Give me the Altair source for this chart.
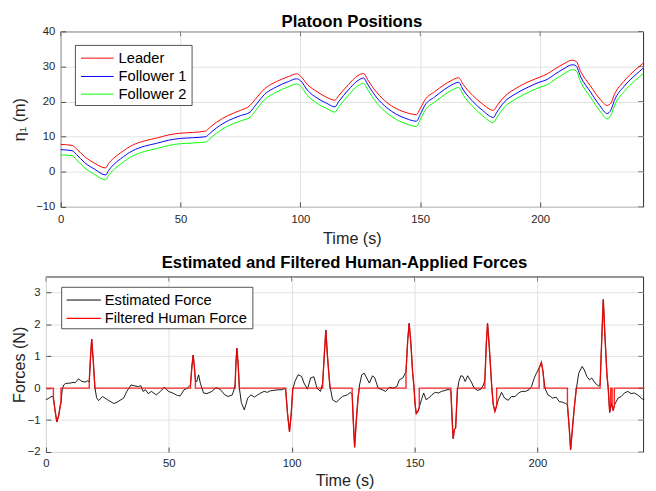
import altair as alt
import pandas as pd

FONT = "Liberation Sans"
AX = "#262626"

# ---------------- top panel data ----------------
series_top = ["Leader", "Follower 1", "Follower 2"]
colors_top = ["#ff0000", "#0000ff", "#00ff00"]

pos_t = [0, 4.8, 6.5, 10, 14, 18.8, 20, 22, 25, 30,
         35, 40, 45, 50, 55, 60.5, 62, 65, 70, 75,
         79, 81, 85, 90, 95, 98.4, 100, 103, 107, 111,
         114.4, 116, 120, 124, 126.4, 128, 132, 136, 140, 144,
         148.4, 150, 152, 156, 160, 163, 166, 168, 172, 176,
         180.6, 182, 185, 190, 195, 200, 203, 206, 210, 213.5,
         215, 217, 221, 225, 228, 229.5, 231, 235, 240, 243.2]

leader = [7.8, 7.5, 6.6, 4.3, 2.5, 1.1, 2.4, 3.8, 5.4, 7.6,
          8.8, 9.6, 10.5, 11.0, 11.2, 11.6, 12.5, 14.1, 16.1, 17.5,
          18.9, 20.5, 23.6, 25.7, 27.1, 27.9, 27.3, 24.8, 22.8, 21.2,
          20.4, 21.7, 24.8, 27.4, 28.0, 26.3, 22.5, 19.8, 18.0, 16.9,
          16.3, 18.0, 20.5, 22.8, 24.8, 26.0, 26.8, 24.8, 21.7, 19.3,
          17.5, 18.8, 21.3, 23.8, 25.6, 27.0, 27.9, 29.2, 30.8, 31.8,
          31.5, 28.5, 24.5, 20.7, 18.9, 19.5, 22.0, 25.8, 29.2, 31.0]

follower1 = [6.3, 6.0, 5.0, 2.6, 0.8, -0.9, 0.4, 2.0, 3.7, 6.0,
             7.3, 8.1, 9.0, 9.5, 9.7, 10.0, 10.8, 12.5, 14.6, 16.0,
             17.0, 18.7, 22.0, 24.2, 25.7, 26.5, 26.0, 23.2, 21.0, 19.5,
             18.5, 20.0, 23.3, 26.0, 26.7, 25.0, 21.0, 18.3, 16.4, 15.2,
             14.4, 16.3, 19.0, 21.3, 23.4, 24.7, 25.5, 23.3, 20.0, 17.5,
             15.5, 17.0, 19.8, 22.3, 24.1, 25.6, 26.3, 27.7, 29.4, 30.5,
             30.2, 27.0, 22.8, 18.8, 16.6, 17.5, 20.3, 24.3, 27.7, 29.6]

follower2 = [4.8, 4.6, 3.5, 1.1, -0.7, -2.3, -1.0, 0.5, 2.2, 4.5,
             5.8, 6.6, 7.5, 8.0, 8.2, 8.5, 9.3, 11.0, 13.1, 14.5,
             15.5, 17.2, 20.5, 22.7, 24.2, 25.0, 24.5, 21.7, 19.5, 18.0,
             17.0, 18.5, 21.8, 24.5, 25.2, 23.5, 19.5, 16.8, 14.9, 13.7,
             12.9, 14.8, 17.5, 19.8, 21.9, 23.2, 24.0, 21.8, 18.5, 16.0,
             14.0, 15.5, 18.3, 20.8, 22.6, 24.1, 24.8, 26.2, 27.9, 29.1,
             28.8, 25.5, 21.3, 17.3, 15.1, 16.0, 18.8, 22.8, 26.2, 28.1]

# ---------------- bottom panel data ----------------
series_bot = ["Estimated Force", "Filtered Human Force"]
colors_bot = ["#000000", "#ff0000"]

est_t = [0.0, 1.5, 2.5, 3.0, 3.6, 4.4, 5.2, 5.8, 6.1, 6.6,
         7.2, 8.0, 9.9, 11.0, 11.9, 13.2, 14.5, 15.9, 16.8, 17.6,
         18.1, 18.6, 19.2, 19.9, 20.6, 21.4, 23.0, 25.0, 27.6, 28.9,
         31.6, 32.9, 34.6, 36.2, 37.6, 38.6, 39.5, 40.5, 41.6, 42.9,
         44.9, 46.6, 48.2, 49.8, 51.5, 53.5, 54.6, 56.2, 57.5, 58.2,
         58.8, 59.4, 59.9, 60.4, 60.8, 61.3, 62.1, 62.8, 64.1, 65.5,
         67.5, 69.2, 70.8, 72.8, 74.1, 75.8, 76.7, 77.0, 77.3, 77.7,
         78.2, 78.7, 79.5, 80.7, 81.4, 82.1, 83.4, 84.8, 86.1, 87.4,
         88.8, 90.1, 91.4, 92.7, 94.4, 96.0, 97.1, 97.6, 98.3, 99.1,
         99.8, 100.4, 101.3, 102.6, 104.0, 105.0, 106.4, 107.7, 109.0, 110.3,
         111.7, 112.6, 113.3, 113.9, 114.5, 115.2, 115.5, 116.6, 118.2, 119.2,
         120.6, 122.6, 123.9, 124.6, 125.1, 125.6, 126.3, 127.0, 127.6, 128.5,
         129.5, 130.5, 131.6, 132.9, 133.8, 135.2, 136.9, 138.2, 139.8, 141.2,
         142.8, 143.8, 145.2, 146.2, 146.5, 147.2, 147.8, 148.5, 149.2, 149.8,
         150.2, 150.7, 151.4, 151.9, 152.8, 153.7, 154.7, 155.7, 157.0, 158.4,
         159.7, 161.0, 162.4, 164.0, 164.8, 165.3, 165.7, 166.2, 166.7, 167.1,
         167.4, 168.0, 168.8, 169.7, 170.6, 171.6, 173.0, 174.3, 175.7, 177.0,
         178.0, 178.6, 179.2, 179.7, 180.4, 181.4, 182.0, 182.7, 183.4, 184.1,
         185.4, 186.6, 188.1, 189.4, 191.0, 192.3, 193.6, 195.2, 196.5, 197.6,
         198.7, 199.6, 200.7, 201.6, 202.2, 202.7, 203.2, 204.3, 205.3, 206.2,
         207.6, 208.9, 210.2, 211.5, 212.2, 212.9, 213.5, 214.2, 215.0, 215.7,
         216.2, 216.8, 218.2, 219.1, 220.1, 221.2, 222.1, 223.5, 224.8, 225.5,
         226.2, 226.8, 227.5, 228.3, 228.8, 229.4, 230.1, 230.8, 231.4, 232.8,
         234.1, 235.4, 236.8, 238.1, 239.4, 240.8, 242.7, 243.5]

est_f = [-0.36, -0.30, -0.25, -0.30, -0.65, -1.06, -0.85, -0.55, -0.45, -0.05,
         0.10, 0.15, 0.16, 0.18, 0.17, 0.29, 0.22, 0.19, 0.23, 0.20,
         0.95, 1.54, 0.90, 0.02, -0.30, -0.39, -0.26, -0.36, -0.48, -0.44,
         -0.31, -0.10, 0.10, 0.07, 0.05, 0.08, -0.10, -0.05, -0.17, -0.10,
         -0.21, -0.10, 0.03, -0.10, -0.15, -0.23, -0.24, -0.05, 0.00, 0.05,
         0.10, 0.70, 1.04, 0.65, 0.25, 0.20, 0.42, 0.16, -0.15, -0.17,
         -0.10, 0.02, -0.03, -0.21, -0.26, -0.21, 0.00, 0.15, 0.80, 1.25,
         0.75, 0.00, -0.45, -0.68, -0.50, -0.31, -0.21, -0.28, -0.21, -0.15,
         -0.10, -0.13, -0.08, -0.07, -0.05, -0.05, 0.00, -0.10, -0.80, -1.37,
         -0.80, -0.05, 0.21, 0.42, 0.37, 0.16, -0.03, 0.32, 0.36, 0.00,
         -0.10, 0.16, 1.10, 1.82, 1.05, 0.37, 0.10, -0.36, -0.44, -0.36,
         -0.26, -0.21, -0.13, -0.20, -1.10, -1.85, -1.00, -0.30, 0.10, 0.42,
         0.47, 0.32, 0.16, 0.39, 0.32, 0.00, -0.05, -0.10, 0.03, 0.00,
         0.05, 0.26, 0.32, 0.47, 0.50, 1.50, 2.03, 1.40, 0.50, 0.00,
         -0.50, -0.80, -0.72, -0.60, -0.36, -0.15, -0.36, -0.31, -0.21, -0.13,
         -0.15, -0.10, -0.07, -0.03, -0.10, -1.00, -1.58, -1.30, -1.25, -0.60,
         -0.10, 0.20, 0.39, 0.37, 0.21, 0.39, 0.21, 0.00, -0.07, -0.03,
         0.10, 0.25, 1.40, 2.03, 1.30, 0.05, -0.50, -0.73, -0.55, -0.36,
         -0.13, -0.31, -0.38, -0.26, -0.26, -0.15, -0.10, -0.10, -0.05, 0.05,
         0.32, 0.47, 0.63, 0.81, 0.55, 0.20, -0.03, -0.21, -0.26, -0.31,
         -0.28, -0.42, -0.44, -0.48, -0.52, -1.20, -1.93, -1.30, -0.60, -0.10,
         0.16, 0.47, 0.68, 0.57, 0.37, 0.26, 0.32, 0.16, 0.07, 0.10,
         1.60, 2.78, 1.60, 0.40, 0.00, -0.76, -0.47, -0.70, -0.52, -0.31,
         -0.26, -0.15, -0.10, -0.17, -0.15, -0.21, -0.34, -0.36]

filt_t = [0.0, 3.0, 3.0, 3.6, 4.4, 5.2, 5.8, 6.1, 6.1, 17.6,
          17.6, 18.1, 18.6, 19.2, 19.9, 19.9, 58.8, 58.8, 59.4, 59.9,
          60.4, 60.8, 60.8, 77.0, 77.0, 77.3, 77.7, 78.2, 78.7, 97.6,
          97.6, 98.3, 99.1, 99.8, 100.4, 100.4, 112.6, 112.6, 113.3, 113.9,
          114.5, 115.2, 115.5, 115.5, 124.6, 124.6, 125.1, 125.6, 126.3, 127.0,
          127.5, 146.5, 146.5, 147.2, 147.8, 148.5, 149.2, 149.8, 150.2, 150.7,
          151.4, 151.9, 151.9, 164.8, 164.8, 165.3, 165.7, 166.2, 166.7, 167.1,
          167.4, 167.4, 178.6, 178.6, 179.2, 179.7, 180.4, 181.4, 182.0, 182.7,
          183.4, 183.4, 200.7, 200.7, 201.6, 202.2, 202.7, 202.7, 212.2, 212.2,
          212.9, 213.5, 214.2, 215.0, 215.7, 215.7, 225.5, 225.5, 226.2, 226.8,
          227.5, 228.3, 228.8, 229.4, 229.8, 229.8, 230.4, 230.4, 230.8, 231.3,
          231.3, 243.5]

filt_f = [0, 0, -0.30, -0.65, -1.06, -0.85, -0.55, -0.45, 0, 0,
          0.20, 0.95, 1.54, 0.90, 0.02, 0, 0, 0.10, 0.70, 1.04,
          0.65, 0.25, 0, 0, 0.15, 0.80, 1.25, 0.75, 0.00, 0,
          -0.10, -0.80, -1.37, -0.80, -0.05, 0, 0, 0.16, 1.10, 1.82,
          1.05, 0.37, 0.10, 0, 0, -0.20, -1.10, -1.85, -1.00, -0.30,
          0, 0, 0.50, 1.50, 2.03, 1.40, 0.50, 0.00, -0.50, -0.80,
          -0.72, -0.60, 0, 0, -0.10, -1.00, -1.58, -1.30, -1.25, -0.60,
          -0.10, 0, 0, 0.25, 1.40, 2.03, 1.30, 0.05, -0.50, -0.73,
          -0.55, 0, 0, 0.63, 0.81, 0.55, 0.20, 0, 0, -0.52,
          -1.20, -1.93, -1.30, -0.60, -0.10, 0, 0, 0.10, 1.60, 2.78,
          1.60, 0.40, 0.00, -0.76, -0.55, 0, 0, -0.55, -0.70, -0.55,
          0, 0]

x_ticks = [0, 50, 100, 150, 200]
top_y_ticks = [-10, 0, 10, 20, 30, 40]
bot_y_ticks = [-2, -1, 0, 1, 2, 3]
x_domain = [0, 243]

# ---------------- tables ----------------
rows = []
for name, vals in zip(series_top, [leader, follower1, follower2]):
    for i, (t, v) in enumerate(zip(pos_t, vals)):
        rows.append({"series": name, "t": t, "v": v, "i": i})
df_top = pd.DataFrame(rows)
df_est = pd.DataFrame({"t": est_t, "v": est_f, "i": range(len(est_t))})
df_filt = pd.DataFrame({"t": filt_t, "v": filt_f, "i": range(len(filt_t))})


def main_axes(y_ticks, y_title, y_title_x, x_label_pad, x_title_pad):
    bottom = alt.Axis(orient="bottom", values=x_ticks, title="Time (s)", offset=-5, tickSize=5,
                      grid=True, labelPadding=x_label_pad, titlePadding=x_title_pad)
    left = alt.Axis(orient="left", values=y_ticks, title=y_title, offset=-5, tickSize=5, grid=True,
                    labelPadding=6, titleX=y_title_x, titleBaseline="middle")
    return bottom, left


def mirror_ticks(xs, ys, ax_x, ax_y, y_ticks, width):
    """Inward tick marks on the top and right edges, placed through the panel's scales."""
    top_ticks = alt.Chart(pd.DataFrame({"t": x_ticks})).mark_tick(
        orient="vertical", size=5, thickness=0.8, color=AX).encode(
        x=alt.X("t:Q", scale=xs, axis=ax_x), y=alt.value(2.5))
    right_ticks = alt.Chart(pd.DataFrame({"v": y_ticks})).mark_tick(
        orient="horizontal", size=5, thickness=0.8, color=AX).encode(
        y=alt.Y("v:Q", scale=ys, axis=ax_y), x=alt.value(width - 2.5))
    return [top_ticks, right_ticks]


def legend_layers(names, colors, widths, box, line_x, text_x, rows_y, fs):
    one = pd.DataFrame({"k": [0]})
    out = [alt.Chart(one).mark_rect(fill="white", stroke=AX, strokeWidth=0.8).encode(
        x=alt.value(box[0]), x2=alt.value(box[1]), y=alt.value(box[2]), y2=alt.value(box[3]))]
    for name, c, w, ry in zip(names, colors, widths, rows_y):
        d = pd.DataFrame({"label": [name]})
        out.append(alt.Chart(d).mark_rule(color=c, strokeWidth=w).encode(
            x=alt.value(line_x[0]), x2=alt.value(line_x[1]), y=alt.value(ry), y2=alt.value(ry)))
        out.append(alt.Chart(d).mark_text(align="left", baseline="middle", fontSize=fs, font=FONT,
                                          color="#000000").encode(
            x=alt.value(text_x), y=alt.value(ry), text="label:N"))
    return out


# ---------------- top panel ----------------
W_TOP, H_TOP = 594, 179
xs_top = alt.Scale(domain=x_domain, nice=False, zero=False)
ys_top = alt.Scale(domain=[-10, 40], nice=False, zero=False)
b1, l1 = main_axes(top_y_ticks, "η₁ (m)", -47, 7, 6)

lines_top = alt.Chart(df_top).mark_line(strokeWidth=1, interpolate="monotone").encode(
    x=alt.X("t:Q", scale=xs_top, axis=b1),
    y=alt.Y("v:Q", scale=ys_top, axis=l1),
    color=alt.Color("series:N", scale=alt.Scale(domain=series_top, range=colors_top), legend=None),
    order="i:Q",
)
top = alt.layer(
    lines_top,
    *mirror_ticks(xs_top, ys_top, b1, l1, top_y_ticks, W_TOP),
    *legend_layers(series_top, colors_top, [1, 1, 1], (15, 134, 14.3, 75.6), (20.7, 54), 59,
                   [27.3, 46, 64], 15)
).properties(width=W_TOP, height=H_TOP,
             title=alt.TitleParams("Platoon Positions", offset=-6))

# invisible 1-px spacer that shifts the upper plot 15 px to the right of the lower one
spacer = alt.Chart(pd.DataFrame({"k": [0]})).mark_point(opacity=0).encode(
    x=alt.value(0), y=alt.value(0)
).properties(width=1, height=1, view=alt.ViewBackground(strokeOpacity=0))

top_row = alt.hconcat(spacer, top, spacing=14, bounds="flush")

# ---------------- bottom panel ----------------
W_BOT, H_BOT = 609, 179
xs_bot = alt.Scale(domain=x_domain, nice=False, zero=False)
ys_bot = alt.Scale(domain=[-2, 3.5], nice=False, zero=False)
b2, l2 = main_axes(bot_y_ticks, "Forces (N)", -32, 6, 4)

est_line = alt.Chart(df_est).mark_line(color=colors_bot[0], strokeWidth=0.9).encode(
    x=alt.X("t:Q", scale=xs_bot, axis=b2),
    y=alt.Y("v:Q", scale=ys_bot, axis=l2),
    order="i:Q",
)
filt_line = alt.Chart(df_filt).mark_line(color=colors_bot[1], strokeWidth=1.4, opacity=0.85).encode(
    x=alt.X("t:Q", scale=xs_bot, axis=b2),
    y=alt.Y("v:Q", scale=ys_bot, axis=l2),
    order="i:Q",
)
bottom = alt.layer(
    est_line, filt_line,
    *mirror_ticks(xs_bot, ys_bot, b2, l2, bot_y_ticks, W_BOT),
    *legend_layers(series_bot, colors_bot, [1, 1.5], (16, 211, 11, 53.3), (21, 56), 60,
                   [24, 42.7], 15)
).properties(width=W_BOT, height=H_BOT, title="Estimated and Filtered Human-Applied Forces")

chart = alt.vconcat(
    top_row, bottom, spacing=5, bounds="full"
).resolve_scale(
    x="independent", y="independent", color="independent"
).properties(
    padding={"left": 2.75, "top": 0, "right": 0, "bottom": 0}
).configure(
    font=FONT
).configure_view(
    stroke=AX, strokeWidth=1
).configure_axis(
    labelFont=FONT, labelFontSize=11.5, labelColor=AX, labelFlush=False,
    titleFont=FONT, titleFontSize=16.5, titleFontWeight="normal", titleColor=AX,
    tickColor=AX, tickWidth=0.8, domain=False, gridColor="#e1e1e1", gridWidth=1,
).configure_title(
    font=FONT, fontSize=17, fontWeight="bold", color="#000000", anchor="middle",
    frame="group", offset=5,
)

chart.save("out.html", embed_options={"renderer": "svg", "actions": False})
